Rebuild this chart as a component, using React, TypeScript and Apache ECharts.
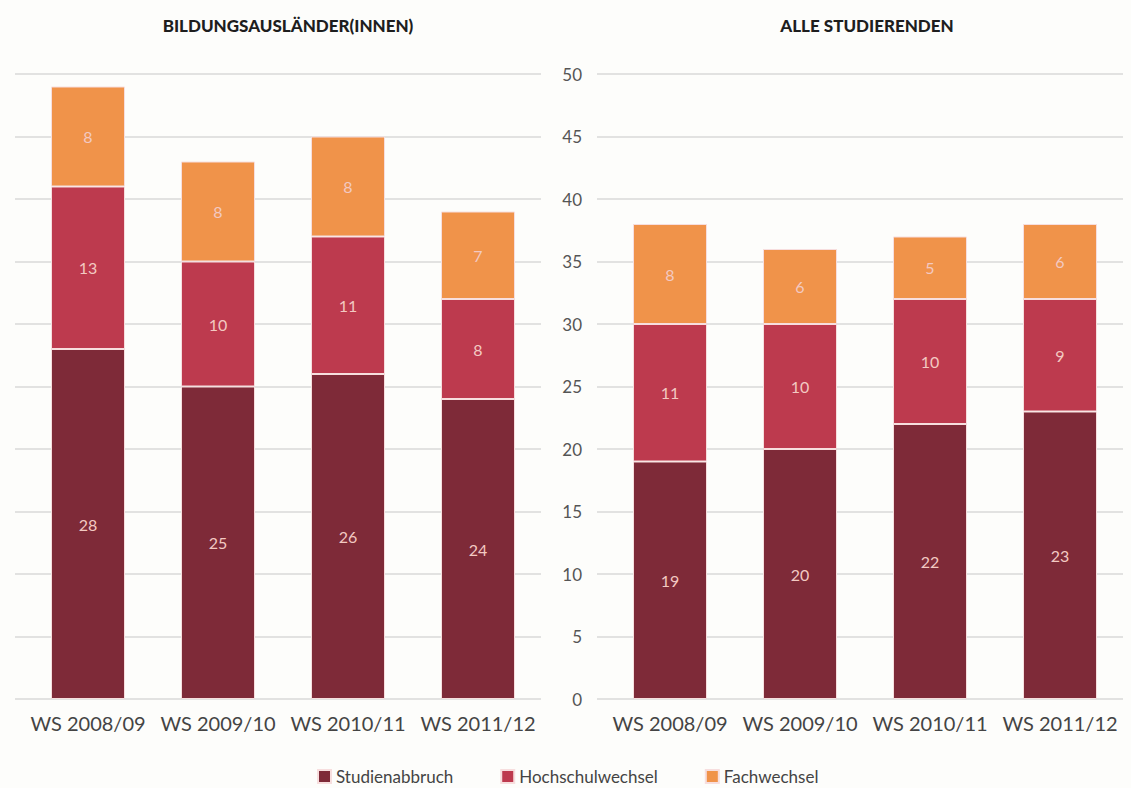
import React, { useEffect, useRef } from "react";
import * as echarts from "echarts";

const categories = ["WS 2008/09", "WS 2009/10", "WS 2010/11", "WS 2011/12"];
const seriesNames = ["Studienabbruch", "Hochschulwechsel", "Fachwechsel"];
const colors = ["#7e2a38", "#bd3a4e", "#f0934a"];

const leftAbbruch = [28, 25, 26, 24];
const leftHochschul = [13, 10, 11, 8];
const leftFach = [8, 8, 8, 7];

const rightAbbruch = [19, 20, 22, 23];
const rightHochschul = [11, 10, 10, 9];
const rightFach = [8, 6, 5, 6];

const titles = ["BILDUNGSAUSLÄNDER(INNEN)", "ALLE STUDIERENDEN"];
const yTicks = { min: 0, max: 50, interval: 5 };

const FONT = "Lato, 'Open Sans', sans-serif";

export default function App() {
  const ref = useRef<HTMLDivElement>(null);

  useEffect(() => {
    if (!ref.current) return;
    const chart = echarts.init(ref.current, null, { renderer: "svg" });

    const leftData = [leftAbbruch, leftHochschul, leftFach];
    const rightData = [rightAbbruch, rightHochschul, rightFach];

    const mkSeries = (data: number[][], idx: number, stack: string) =>
      data.map((vals, i) => ({
        name: seriesNames[i],
        type: "bar",
        stack,
        xAxisIndex: idx,
        yAxisIndex: idx,
        barWidth: 74,
        data: vals,
        z: 3,
        itemStyle: { color: colors[i], borderColor: "#f7dede", borderWidth: 1 },
        label: {
          show: true,
          position: "inside",
          color: "#f3c9c2",
          fontSize: 16,
          fontFamily: FONT,
        },
      }));

    // grids 0/1 hold the bars, grids 2/3 draw the (slightly wider) gridlines
    const grids = [
      { left: 23, width: 520, top: 74, bottom: 89 },
      { left: 605, width: 520, top: 74, bottom: 89 },
      { left: 15, width: 526, top: 74, bottom: 89 },
      { left: 597, width: 526, top: 74, bottom: 89 },
    ];

    const xAxis = [
      ...[0, 1].map((i) => ({
        type: "category",
        gridIndex: i,
        data: categories,
        axisLine: { show: false },
        axisTick: { show: false },
        axisLabel: {
          color: "#444",
          fontSize: 20,
          fontFamily: FONT,
          margin: 14,
          interval: 0,
        },
      })),
      ...[2, 3].map((i) => ({
        type: "value",
        gridIndex: i,
        min: 0,
        max: 1,
        show: false,
      })),
    ];

    const yAxis = [
      ...[0, 1].map((i) => ({
        type: "value",
        gridIndex: i,
        min: yTicks.min,
        max: yTicks.max,
        interval: yTicks.interval,
        axisLine: { show: false },
        axisTick: { show: false },
        splitLine: { show: false },
        axisLabel: { show: false },
      })),
      ...[2, 3].map((i) => ({
        type: "value",
        gridIndex: i,
        min: yTicks.min,
        max: yTicks.max,
        interval: yTicks.interval,
        axisLine: { show: false },
        axisTick: { show: false },
        splitLine: { show: true, lineStyle: { color: "#d9d9d9", width: 1.5 } },
        axisLabel: {
          show: i === 3,
          color: "#555",
          fontSize: 17,
          fontFamily: FONT,
          margin: 15,
        },
      })),
    ];

    const titleStyle = {
      fontSize: 17,
      fontWeight: 900,
      color: "#1e1e1e",
      fontFamily: FONT,
    };

    chart.setOption({
      animation: false,
      backgroundColor: "#fdfdfb",
      title: [
        { text: titles[0], left: 283, top: 12, textAlign: "center", textStyle: titleStyle },
        { text: titles[1], left: 862, top: 12, textAlign: "center", textStyle: titleStyle },
      ],
      legend: {
        data: seriesNames,
        left: 317,
        top: 768,
        padding: 0,
        itemWidth: 13,
        itemHeight: 13,
        itemGap: 47,
        icon: "rect",
        textStyle: {
          color: "#444",
          fontSize: 17,
          lineHeight: 17,
          fontFamily: FONT,
        },
      },
      grid: grids,
      xAxis,
      yAxis,
      series: [...mkSeries(leftData, 0, "left"), ...mkSeries(rightData, 1, "right")],
    });

    return () => chart.dispose();
  }, []);

  return (
    <div
      ref={ref}
      style={{ position: "fixed", left: 0, top: 0, width: 1131, height: 788 }}
    />
  );
}
